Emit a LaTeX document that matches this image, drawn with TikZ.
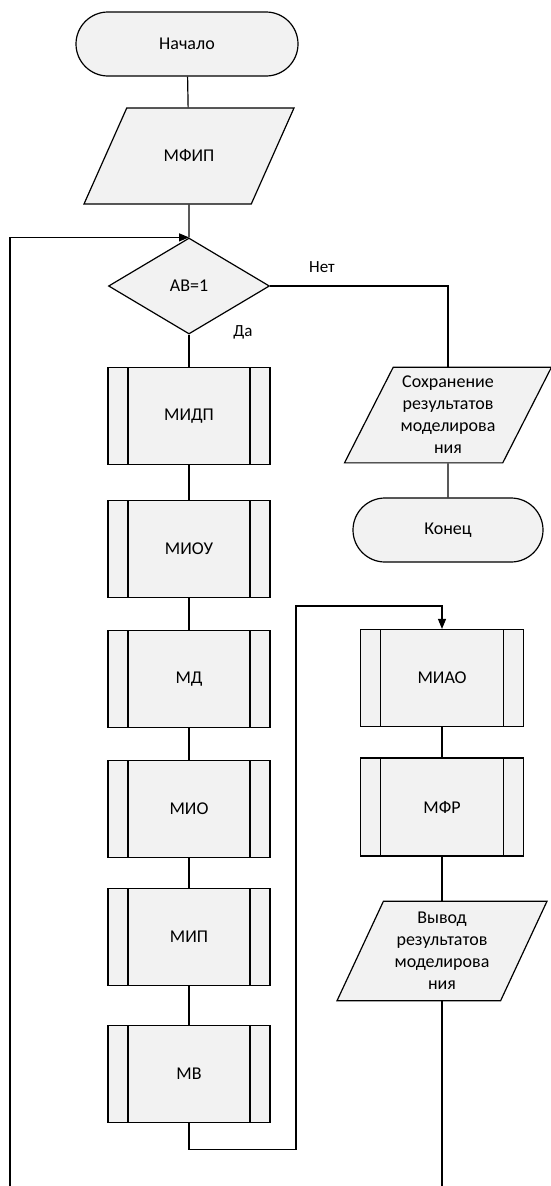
\documentclass[tikz,border=0pt]{standalone}
\usepackage{fontspec}
\setmainfont{Carlito}
\usepackage{tikz}
\usetikzlibrary{shapes.geometric, arrows.meta, positioning, calc}

\begin{document}
\begin{tikzpicture}[
    x=1pt, y=-1pt,
    font=\fontsize{18}{22}\selectfont,
    line width=1.2pt,
    % Node styles
    terminal/.style={rectangle, draw=black, fill=black!5, rounded corners=32pt, minimum width=222pt, minimum height=64pt, align=center},
    io/.style={trapezium, trapezium left angle=66, trapezium right angle=114, trapezium stretches body, draw=black, fill=black!5, minimum width=210pt, inner ysep=9pt, align=center},
    decision/.style={diamond, draw=black, fill=black!5, minimum width=161pt, minimum height=96pt, inner sep=0pt},
    module/.style={rectangle, draw=black, fill=black!5, minimum width=162pt, minimum height=97pt,
        path picture={
            \draw ([xshift=20pt]path picture bounding box.north west) -- ([xshift=20pt]path picture bounding box.south west);
            \draw ([xshift=-20pt]path picture bounding box.north east) -- ([xshift=-20pt]path picture bounding box.south east);
        }},
    arrow/.style={-{Triangle[length=10pt, width=8pt]}},
    branch/.style={font=\fontsize{17}{20}\selectfont},
]

\useasboundingbox (0, 0) rectangle (551, 1186);

% Start and input
\node[terminal] (start) at (187, 44) {Начало};
\node[io, text height=12pt, text depth=2pt, inner ysep=41pt] (mfip) at (189, 156) {МФИП};
\draw (start) -- (mfip);

% Condition
\node[decision] (dec) at (189, 286) {АВ=1};
\draw (mfip) -- (dec);
\node[branch] (no) at (322, 267) {Нет};
\node[branch] (yes) at (243, 332) {Да};

% Branch "Нет": save and finish
\node[io, trapezium left angle=63, trapezium right angle=117, minimum width=207pt] (save) at (448, 415) {Сохранение\\результатов\\моделирова\\ния};
\node[terminal, minimum width=190pt] (end) at (448, 530) {Конец};
\draw (dec.east) -| (save.north);
\draw (save) -- (end);

% Branch "Да": modules
\node[module] (midp) at (189, 416) {МИДП};
\node[module] (miou) at (189, 549) {МИОУ};
\node[module] (md) at (189, 679) {МД};
\node[module] (mio) at (189, 809) {МИО};
\node[module] (mip) at (189, 937) {МИП};
\node[module] (mv) at (189, 1074) {МВ};
\draw (dec) -- (midp);
\draw (midp) -- (miou);
\draw (miou) -- (md);
\draw (md) -- (mio);
\draw (mio) -- (mip);
\draw (mip) -- (mv);

% Second column
\node[module, minimum width=163pt] (miao) at (442, 678) {МИАО};
\node[module, minimum width=163pt, minimum height=98pt] (mfr) at (442, 807) {МФР};
\node[io, inner ysep=11pt, trapezium left angle=65, trapezium right angle=115] (out) at (442, 951) {Вывод\\результатов\\моделирова\\ния};
\draw (miao) -- (mfr);
\draw (mfr) -- (out);

% Jump to second column
\coordinate (bypass) at (296, 606);
\draw[arrow] (mv.south) -- ++(0, 26) -| (bypass) -| (miao.north);

% Loop back and output continuation
\coordinate (loopin) at (10, 1186);
\coordinate (outend) at (442, 1186);
\draw[arrow] (loopin) |- (dec.north);
\draw (out) -- (outend);

\end{tikzpicture}
\end{document}
